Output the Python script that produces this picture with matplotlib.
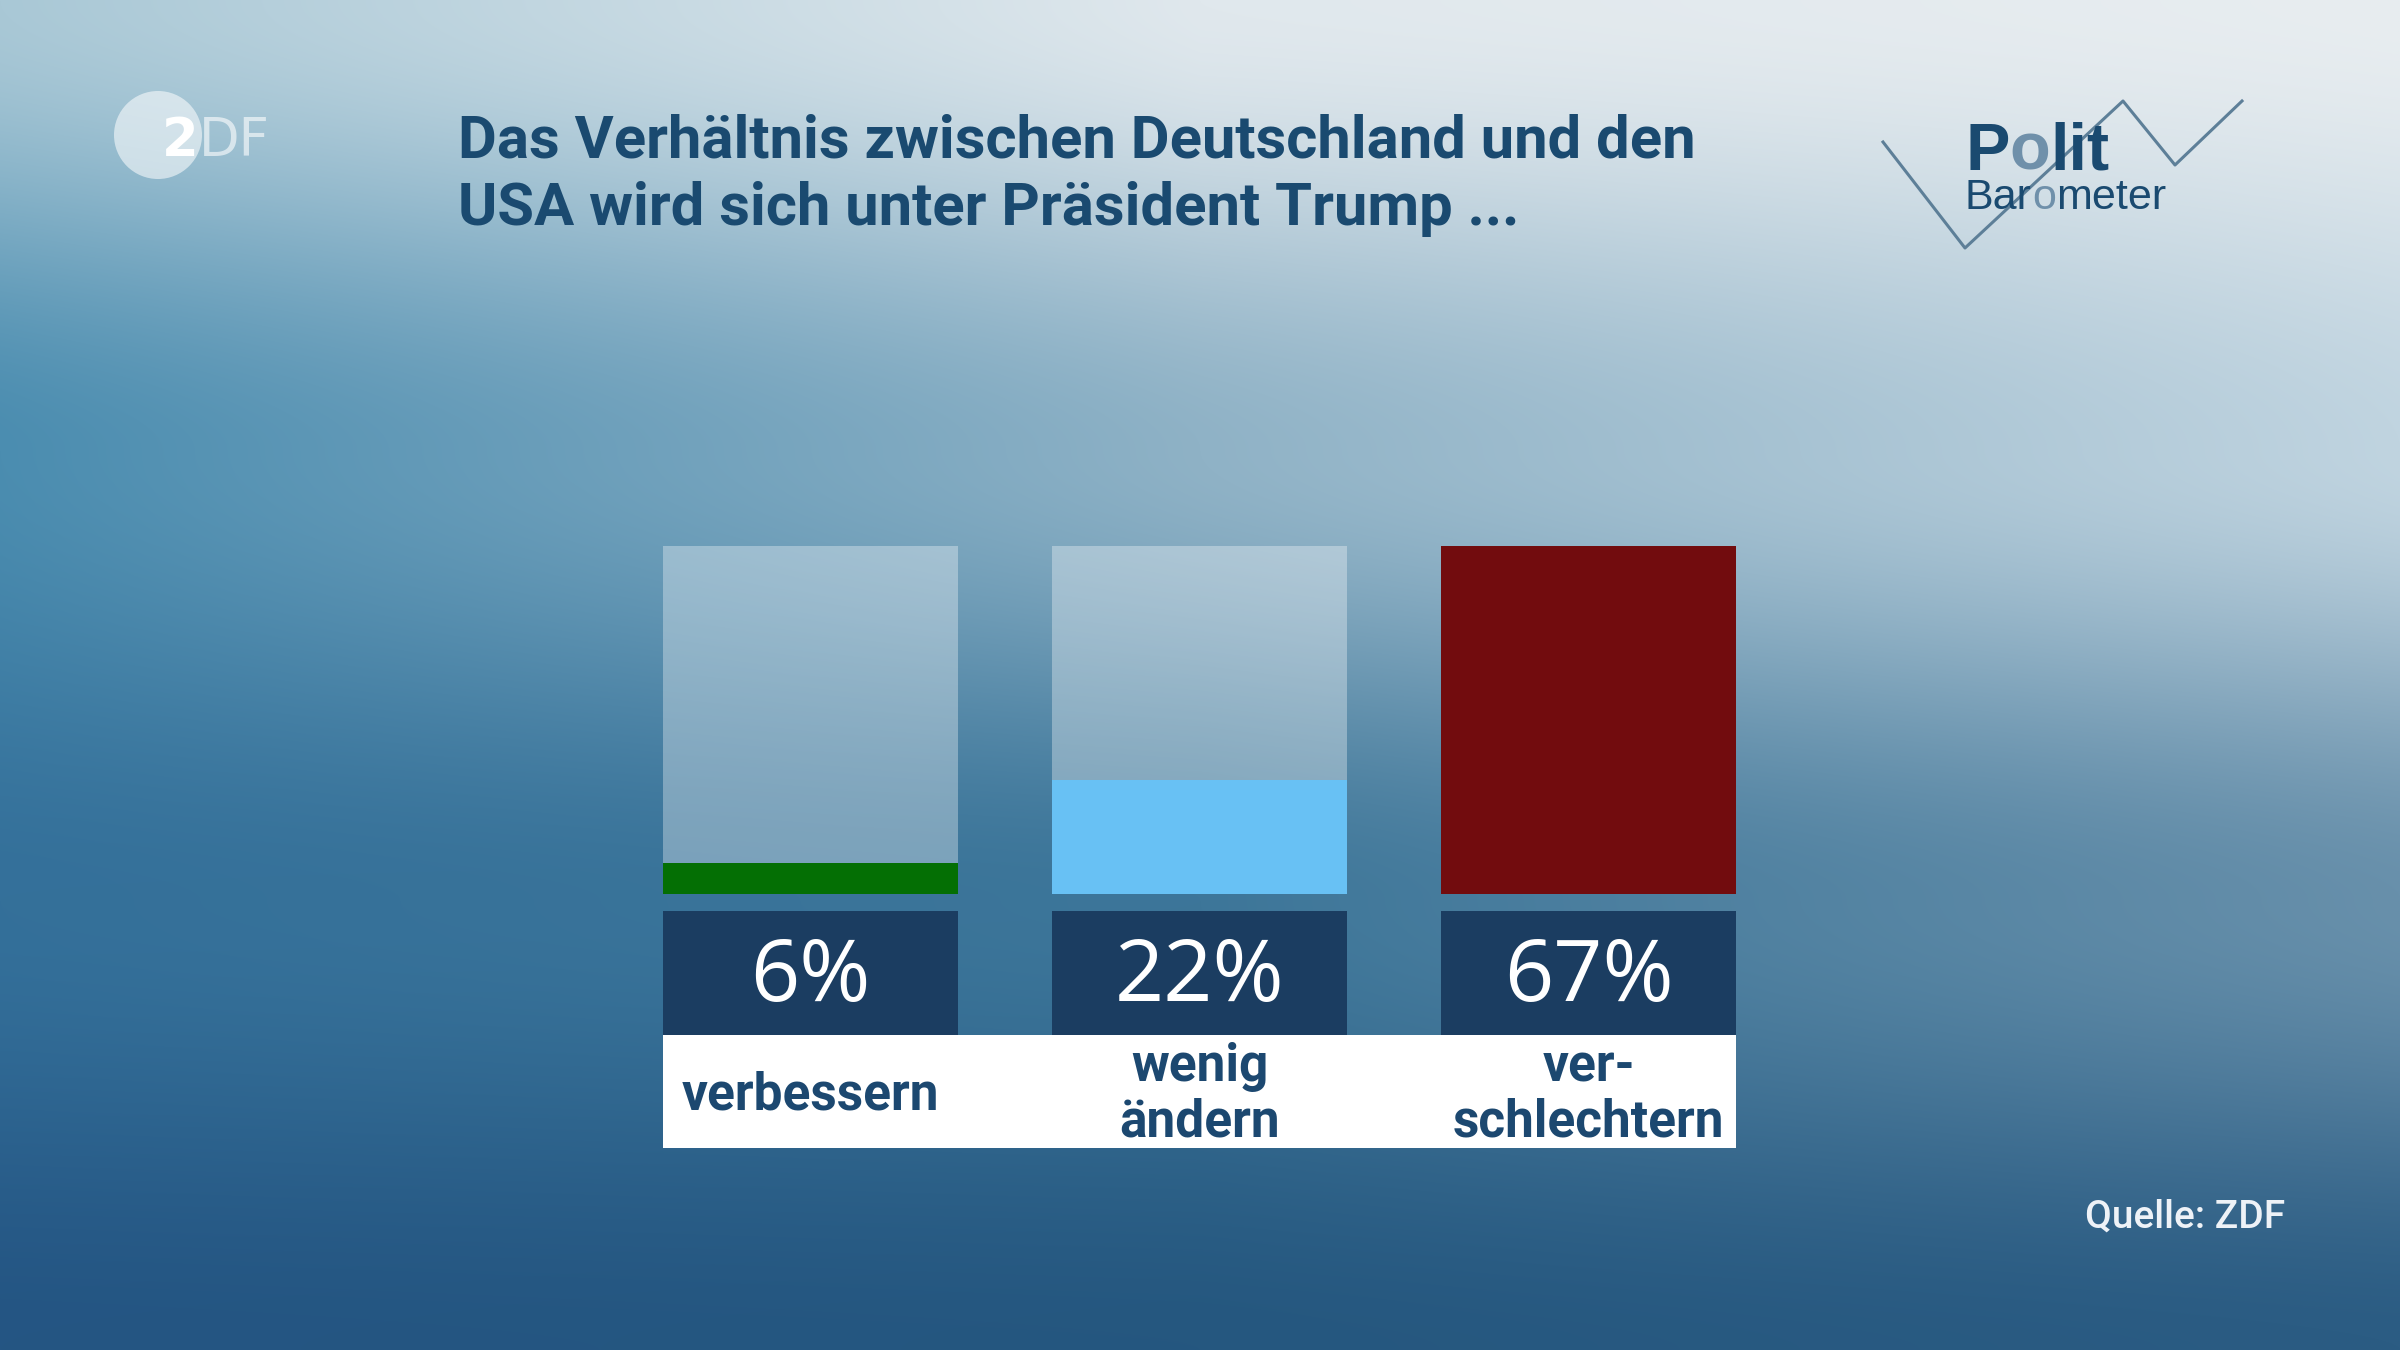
import matplotlib.pyplot as plt
import numpy as np
from matplotlib.colors import to_rgb
from matplotlib.patches import Circle

# data
categories = ['verbessern', 'wenig\nändern', 'ver-\nschlechtern']
values = [6, 22, 67]
value_labels = ['6%', '22%', '67%']
bar_colors = ['#046f04', '#68c1f4', '#720c0e']

title = 'Das Verhältnis zwischen Deutschland und den\nUSA wird sich unter Präsident Trump ...'
source = 'Quelle: ZDF'

W, H = 2400, 1350
fig = plt.figure(figsize=(24, 13.5), dpi=100)

# background gradient (pixel coords, y down)
bg = fig.add_axes([0, 0, 1, 1])
rows_y = np.array([0, 450, 900, 1350])
cols_x = [0, 1200, 2400]
grid = [['#a9c8d6', '#e0e8ed', '#e8edf0'],
        ['#4b8db0', '#8fb2c6', '#c0d4e0'],
        ['#34709a', '#3d7699', '#6890ab'],
        ['#245583', '#25577f', '#2b5c83']]
g = np.array([[to_rgb(c) for c in row] for row in grid])
xs = np.arange(W)
ys = np.arange(H)
tmp = np.stack([np.stack([np.interp(xs, cols_x, g[r, :, ch]) for ch in range(3)], -1)
                for r in range(len(rows_y))])
idx = np.clip(np.searchsorted(rows_y, ys, side='right') - 1, 0, len(rows_y) - 2)
t = (ys - rows_y[idx]) / (rows_y[idx + 1] - rows_y[idx])
t = t * t * (3 - 2 * t)
img = tmp[idx] * (1 - t)[:, None, None] + tmp[idx + 1] * t[:, None, None]
bg.imshow(img, extent=[0, W, H, 0], aspect='auto', zorder=0)
bg.set_xlim(0, W)
bg.set_ylim(H, 0)
bg.axis('off')

# ZDF logo
bg.add_patch(Circle((158, 135), 44, color='white', alpha=0.55, lw=0))
t2 = bg.text(162, 156, '2', color='white', fontsize=38, fontweight='bold',
             family='DejaVu Sans', va='baseline')
bg.annotate('DF', xy=(1, 0), xycoords=t2, va='bottom', ha='left', color='white',
            alpha=0.6, fontsize=38, family='DejaVu Sans')

# title (anchored at baseline of the second line)
bg.text(458, 225, title, color='#1a4a70', fontsize=43, fontweight='bold',
        family='Roboto', va='baseline', linespacing=1.27)

# Politbarometer logo
bg.plot([1883, 1965, 2123, 2175, 2242], [142, 248, 101, 165, 101],
        color='#5d7f98', lw=2.2, zorder=3)
p1 = bg.text(1965, 170, 'P', color='#1a4a70', fontsize=48, fontweight='bold',
             family='Liberation Sans', va='baseline', zorder=4)
p2 = bg.annotate('o', xy=(1, 0), xycoords=p1, va='bottom', color='#6f90aa',
                 fontsize=48, fontweight='bold', family='Liberation Sans', zorder=4)
bg.annotate('lit', xy=(1, 0), xycoords=p2, va='bottom', color='#1a4a70',
            fontsize=48, fontweight='bold', family='Liberation Sans', zorder=4)
b1 = bg.text(1965, 209, 'Bar', color='#1a4a70', fontsize=31,
             family='Liberation Sans', va='baseline', zorder=4)
b2 = bg.annotate('o', xy=(1, 0), xycoords=b1, va='bottom', color='#6f90aa',
                 fontsize=31, family='Liberation Sans', zorder=4)
bg.annotate('meter', xy=(1, 0), xycoords=b2, va='bottom', color='#1a4a70',
            fontsize=31, family='Liberation Sans', zorder=4)

# source
bg.text(2285, 1228, source, color='#eef2f7', fontsize=28, fontweight='medium',
        family='Roboto', ha='right', va='baseline')

# bars
x = np.arange(len(values))
bw = 0.757
xl = (-bw / 2, len(values) - 1 + bw / 2)
ax = fig.add_axes([663 / W, 1 - 894 / H, (1736 - 663) / W, (894 - 546) / H])
ax.patch.set_alpha(0)
ax.bar(x, [max(values)] * len(values), width=bw, color='white', alpha=0.33, lw=0)
ax.bar(x, values, width=bw, color=bar_colors, lw=0)
ax.set_xlim(*xl)
ax.set_ylim(0, max(values))
ax.axis('off')

# value boxes and labels
ax2 = fig.add_axes([663 / W, 1 - 1148 / H, (1736 - 663) / W, (1148 - 911) / H])
ax2.patch.set_alpha(0)
ax2.set_xlim(*xl)
ax2.set_ylim(237, 0)
ax2.bar(x, 124, width=bw, bottom=0, color='#1b3d61', lw=0)
ax2.bar(np.mean(xl), 113, width=xl[1] - xl[0], bottom=124, color='white', lw=0)
for i in x:
    ax2.text(i, 68, value_labels[i], color='white', fontsize=62, family='Open Sans',
             ha='center', va='center')
    ax2.text(i, 184, categories[i], color='#1c4870', fontsize=37, fontweight='bold',
             family='Roboto', ha='center', va='center', linespacing=1.15)
ax2.axis('off')

fig.savefig('out.png', dpi=100)
